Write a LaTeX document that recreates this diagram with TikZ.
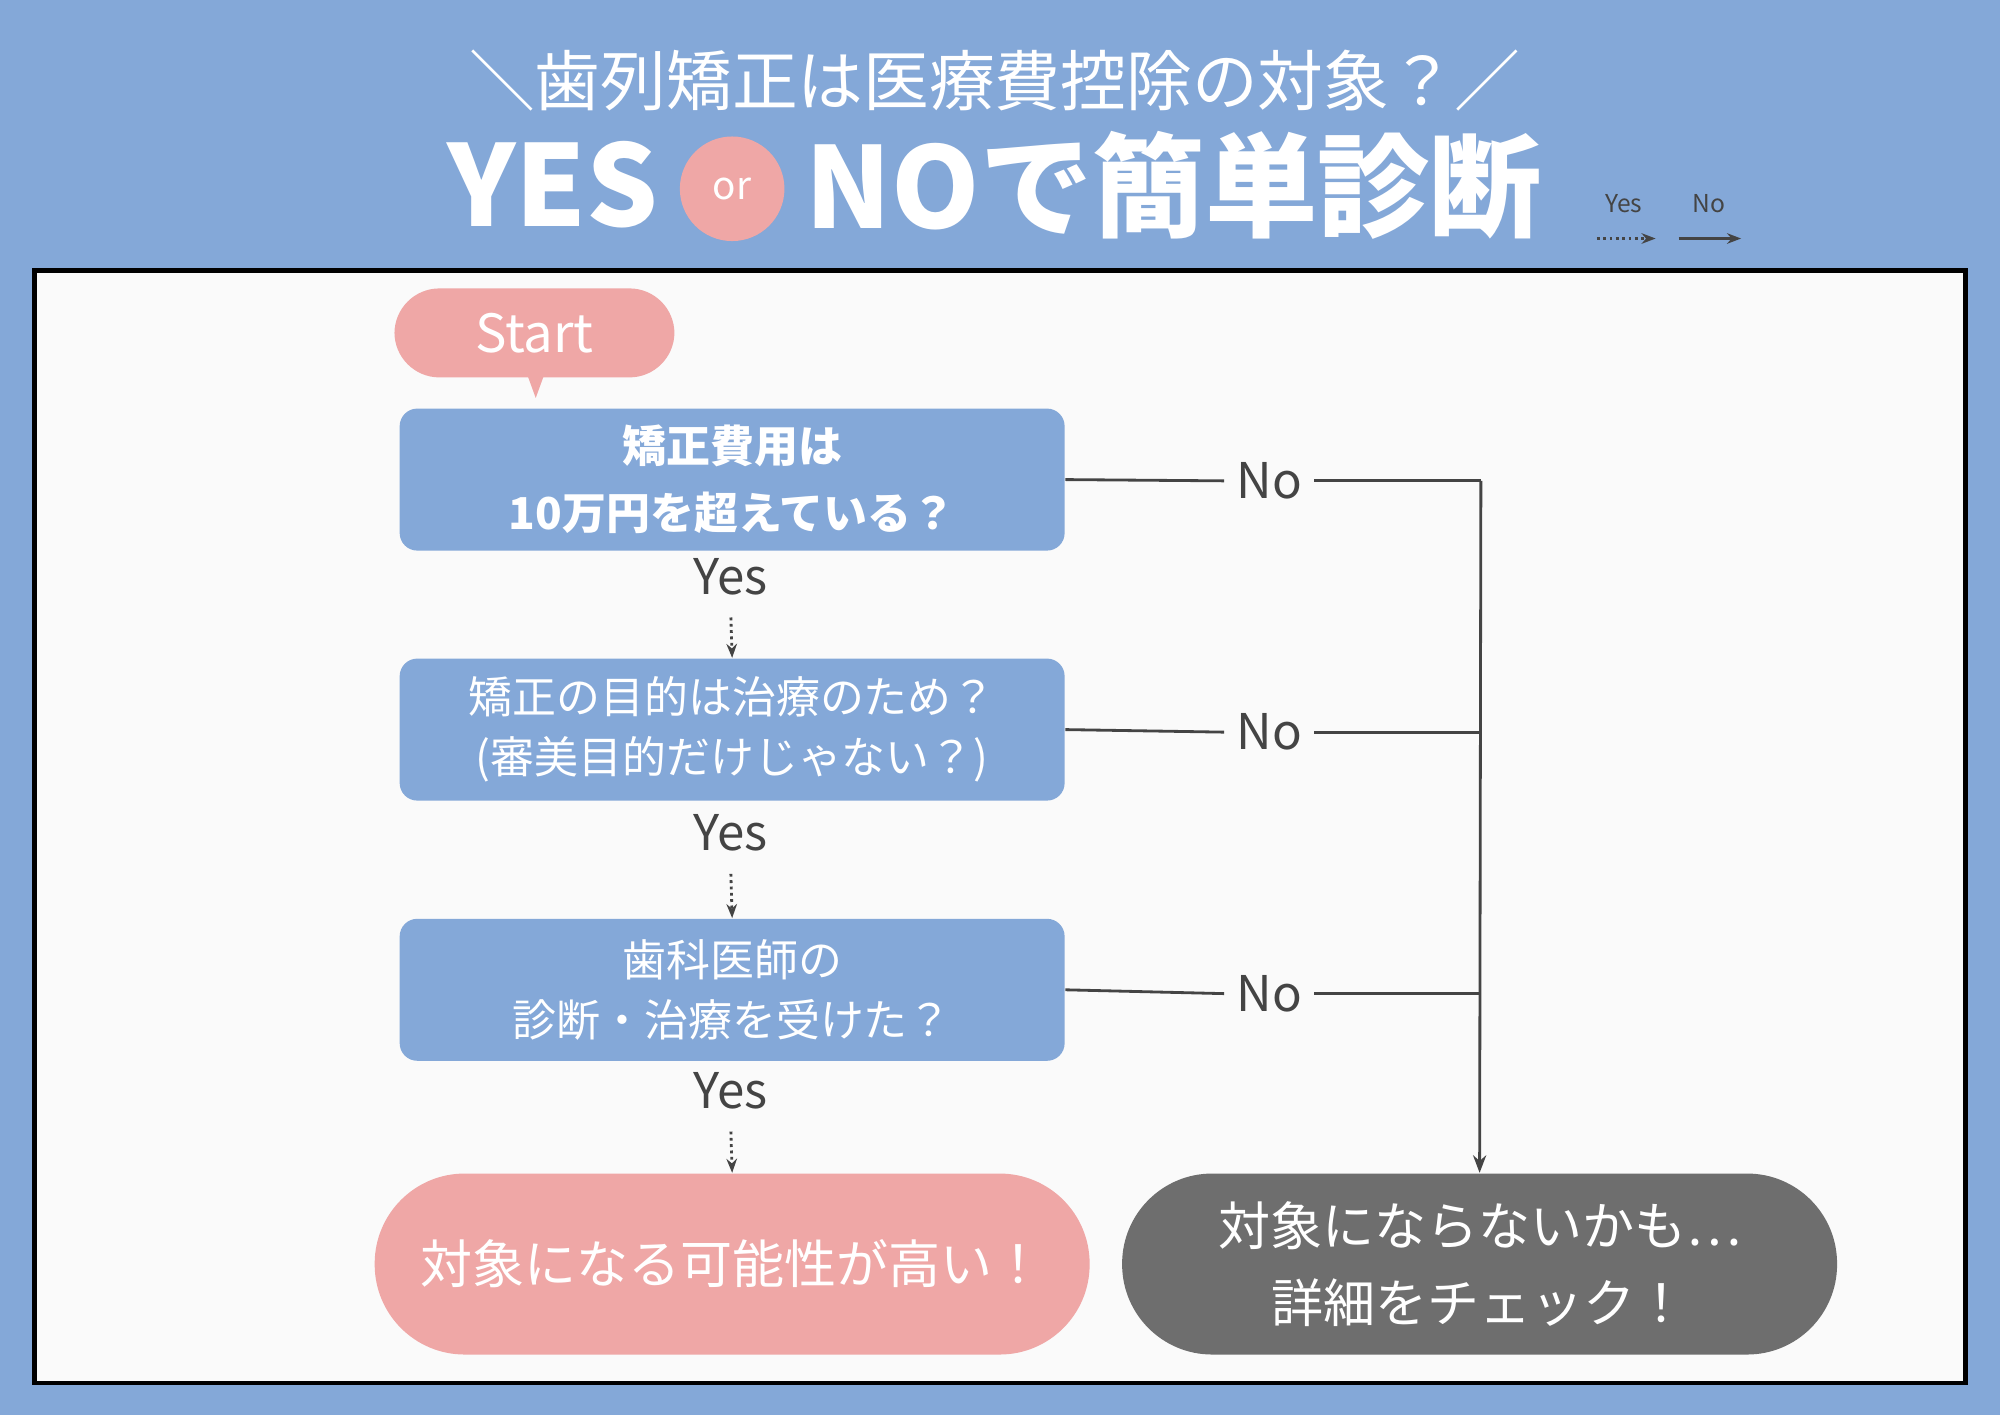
\documentclass[tikz,border=0pt]{standalone}
\usepackage{fontspec}
\setmainfont{Noto Sans CJK JP}
\usetikzlibrary{positioning,arrows.meta}
\definecolor{bgblue}{HTML}{84A8D8}
\definecolor{pinkc}{HTML}{EFA7A6}
\definecolor{grayc}{HTML}{6E6E6E}
\definecolor{inkc}{HTML}{444444}
\definecolor{panelc}{HTML}{FAFAFA}

\begin{document}
\begin{tikzpicture}
    	[x=0.01275cm, y=-0.01275cm,
    		question/.style={
    		  rectangle,
    		  fill=bgblue,
    		  rounded corners=5pt,
    		  minimum width=6.65cm,
    		  minimum height=1.42cm,
    		  text=white,
    		  align=center,
    		  font=\fontsize{12.5}{17}\selectfont
    		},
    		answer/.style={
    		  rounded corners=0.9cm,
    		  minimum width=7.15cm,
    		  minimum height=1.81cm,
    		  text=white,
    		  align=center,
    		  font=\fontsize{14.8}{22}\selectfont
    		},
    		lbl/.style={text=inkc, font=\fontsize{14}{17}\selectfont},
    		yesarrow/.style={draw=inkc, densely dotted, thick, -{Stealth[length=4pt]}},
    		noline/.style={draw=inkc, thick}
    	]
    	\fill[bgblue] (0,0) rectangle (1568,1109);
    	\draw[very thick, fill=panelc] (27,212) rectangle (1541,1084);

    	% title
    	\node[text=white, font=\fontsize{18.7}{20}\selectfont] (title) at (780,63) {＼歯列矯正は医療費控除の対象？／};
    	\fill[pinkc] (574,148) circle (41);
    	\node[text=white, font=\fontsize{11}{13}\selectfont] (or) at (574,148) {or};
    	\node[text=white, font=\bfseries\fontsize{32}{36}\selectfont, anchor=east] (yes) at (526,145) {YES};
    	\node[text=white, font=\bfseries\fontsize{32}{36}\selectfont, anchor=west] (notext) at (622,145) {NOで簡単診断};

    	% legend
    	\node[lbl, font=\fontsize{7}{9}\selectfont] (lyes) at (1273,160) {Yes};
    	\node[lbl, font=\fontsize{7}{9}\selectfont] (lno) at (1340,160) {No};
    	\coordinate (ly1) at (1252,187); \coordinate (ly2) at (1298,187);
    	\coordinate (ln1) at (1316,187); \coordinate (ln2) at (1365,187);
    	\draw[yesarrow] (ly1) -- (ly2);
    	\draw[noline, -{Stealth[length=4pt]}] (ln1) -- (ln2);

    	% start
    	\fill[pinkc] (420,312) -- (412,290) -- (428,290) -- cycle;
    	\node[fill=pinkc, rounded corners=0.45cm, minimum width=2.8cm, minimum height=0.89cm,
    	  text=white, font=\fontsize{15}{18}\selectfont] (start) at (419,261) {Start};

    	% questions
    	\node[question, font=\bfseries\fontsize{12.5}{19}\selectfont] (q1) at (574,376) {矯正費用は\\10万円を超えている？};
    	\node[question] (q2) at (574,572) {矯正の目的は治療のため？\\(審美目的だけじゃない？)};
    	\node[question] (q3) at (574,776) {歯科医師の\\診断・治療を受けた？};

    	% results
    	\node[answer, fill=pinkc] (r1) at (574,991) {対象になる可能性が高い！};
    	\node[answer, fill=grayc] (r2) at (1160,991) {対象にならないかも⋯\\詳細をチェック！};

    	% yes path
    	\node[lbl] (y1) at (573,452) {Yes};
    	\node[lbl] (y2) at (573,653) {Yes};
    	\node[lbl] (y3) at (573,855) {Yes};
    	\draw[yesarrow] (y1.south) ++(0,8) -- (q2.north);
    	\draw[yesarrow] (y2.south) ++(0,8) -- (q3.north);
    	\draw[yesarrow] (y3.south) ++(0,8) -- (r1.north);

    	% no path
    	\node[lbl] (n1) at (995,377) {No};
    	\node[lbl] (n2) at (995,574) {No};
    	\node[lbl] (n3) at (995,779) {No};
    	\coordinate (c1) at (1161,377);
    	\coordinate (c2) at (1161,574);
    	\coordinate (c3) at (1161,779);
    	\draw[noline] (q1.east) -- (n1.west); \draw[noline] (n1.east) -- (c1);
    	\draw[noline] (q2.east) -- (n2.west); \draw[noline] (n2.east) -- (c2);
    	\draw[noline] (q3.east) -- (n3.west); \draw[noline] (n3.east) -- (c3);
    	\draw[noline, -{Stealth[length=5pt]}] (c1) -- (r2.north);
    \end{tikzpicture}
\end{document}
